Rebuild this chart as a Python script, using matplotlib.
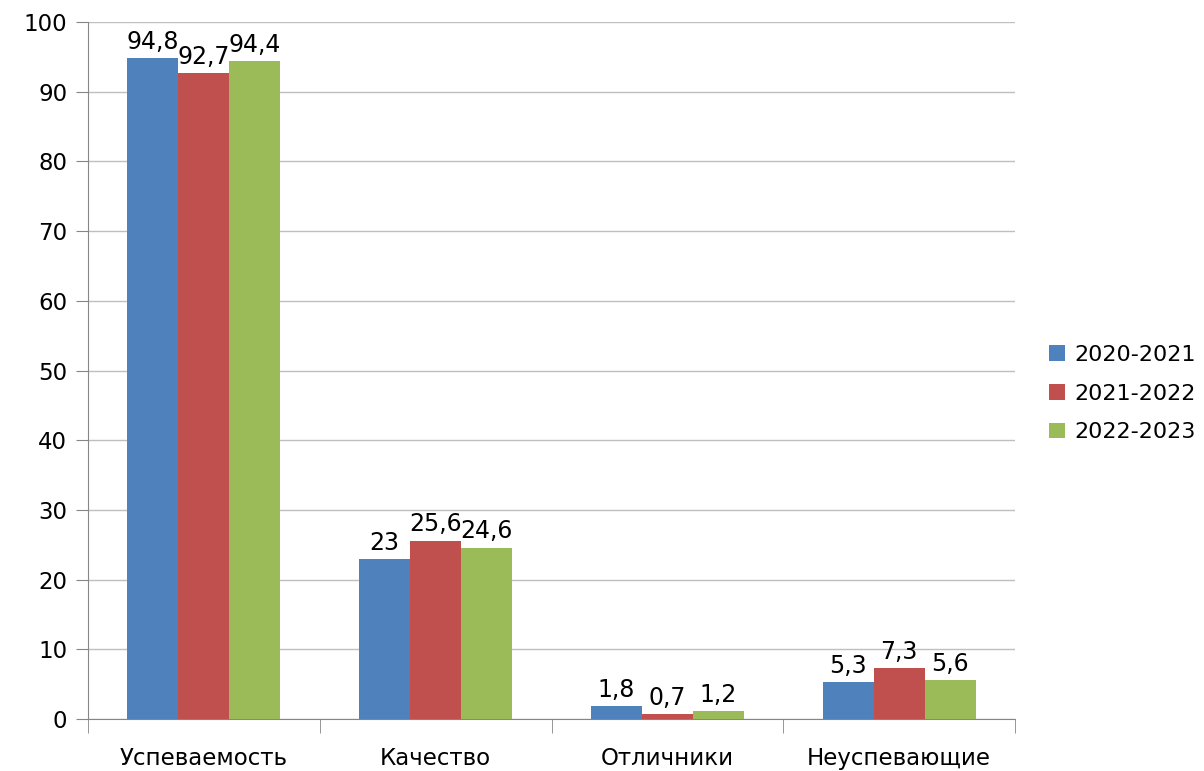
import matplotlib.pyplot as plt
import numpy as np

# data
categories = ['Успеваемость', 'Качество', 'Отличники', 'Неуспевающие']
years = ['2020-2021', '2021-2022', '2022-2023']
v2020 = [94.8, 23, 1.8, 5.3]
v2021 = [92.7, 25.6, 0.7, 7.3]
v2022 = [94.4, 24.6, 1.2, 5.6]
yticks = [0, 10, 20, 30, 40, 50, 60, 70, 80, 90, 100]

colors = ['#4F81BD', '#C0504D', '#9BBB59']
plt.rcParams['font.family'] = ['DejaVu Sans']

fig = plt.figure(figsize=(12.04, 7.71), dpi=100)
ax = fig.add_axes([0.0731, 0.0674, 0.77, 0.904])

ind = np.arange(len(categories))
width = 0.22
series = [v2020, v2021, v2022]
bars = []
for i, vals in enumerate(series):
    b = ax.bar(ind + (i - 1) * width, vals, width, color=colors[i], label=years[i], zorder=3)
    bars.append(b)
    labels = [('%g' % v).replace('.', ',') for v in vals]
    ax.bar_label(b, labels=labels, padding=3, fontsize=17, color='black')

ax.set_xlim(-0.5, len(categories) - 0.5)
ax.set_ylim(0, 100)
ax.set_yticks(yticks)
ax.tick_params(axis='y', labelsize=16.5, length=9, color='#868686', pad=6)
ax.yaxis.grid(True, color='#BFBFBF', linewidth=1, zorder=0)

ax.set_xticks(ind)
ax.set_xticklabels(categories, fontsize=16.5)
ax.tick_params(axis='x', which='major', length=0, pad=20)
ax.set_xticks(np.arange(-0.5, len(categories), 1), minor=True)
ax.tick_params(axis='x', which='minor', length=10, color='#868686')

for s in ['top', 'right']:
    ax.spines[s].set_visible(False)
ax.spines['left'].set_color('#868686')
ax.spines['bottom'].set_color('#868686')

fig.legend(handles=bars, labels=years, loc='center left', bbox_to_anchor=(0.864, 0.4895),
           frameon=False, fontsize=16, handlelength=0.7, handleheight=0.7,
           handletextpad=0.45, labelspacing=0.85, borderaxespad=0)

plt.savefig('out.png', dpi=100)
